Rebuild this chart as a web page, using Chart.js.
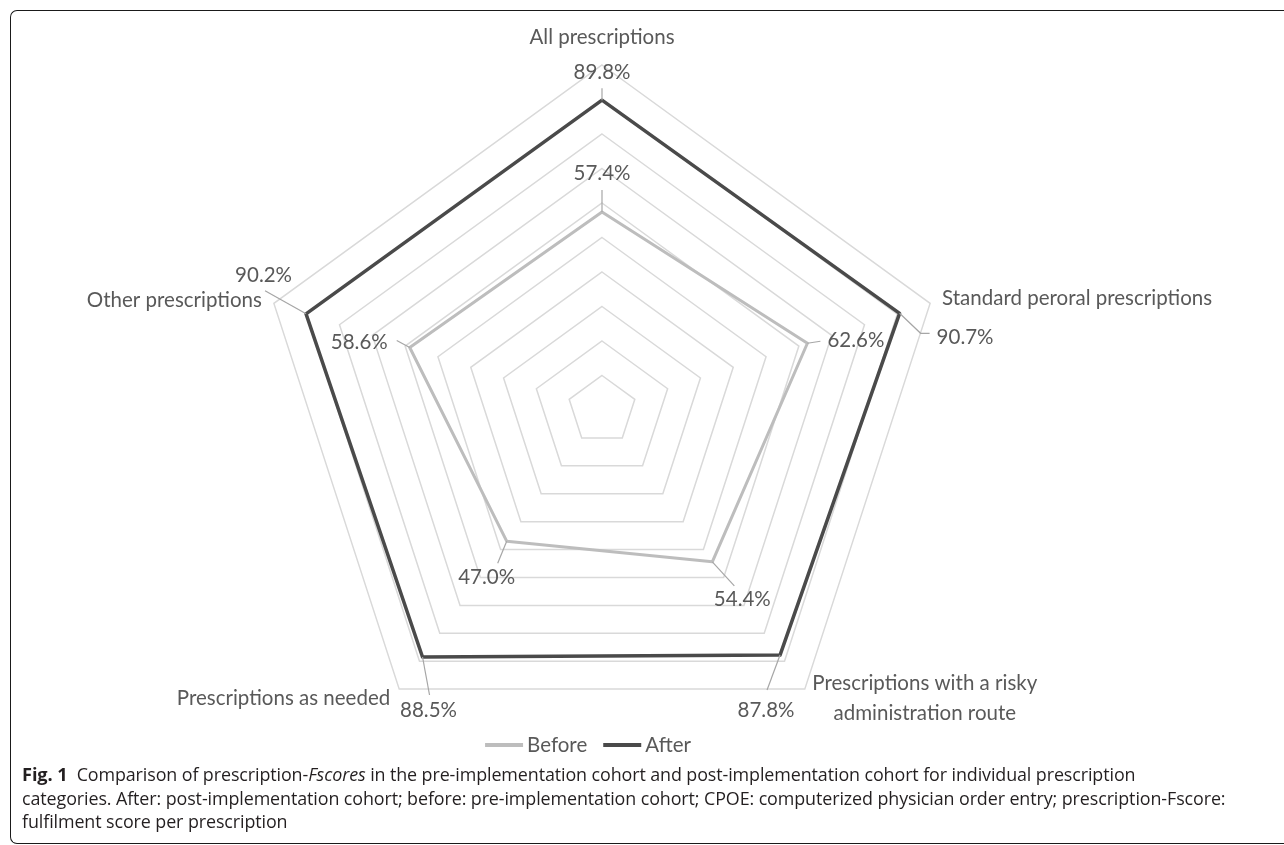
<!DOCTYPE html>
<html>
<head>
<meta charset="utf-8">
<script src="https://cdn.jsdelivr.net/npm/chart.js@4/dist/chart.umd.min.js"></script>
<style>
  html, body { margin: 0; padding: 0; background: #fff; width: 1284px; height: 845px; overflow: hidden; }
  #frame { position: absolute; left: 10px; top: 10px; width: 1300px; height: 834px; box-sizing: border-box;
           border: 1.5px solid #1a1a1a; border-right: none; border-radius: 7px 0 0 7px; }
  #chart { position: absolute; left: 0; top: 0; }
  #caption { position: absolute; left: 22px; top: 763px; font-family: "Open Sans", sans-serif; font-size: 17.9px;
             line-height: 23.5px; color: #231f20; white-space: nowrap; letter-spacing: -0.1px; }
  #caption b { font-weight: 700; font-size: 18.2px; }
</style>
</head>
<body>
<div id="frame"></div>
<canvas id="chart" width="1284" height="845"></canvas>
<div id="caption">
  <div><b>Fig. 1</b>&nbsp; Comparison of prescription-<i>Fscores</i> in the pre-implementation cohort and post-implementation cohort for individual prescription</div>
  <div>categories. After: post-implementation cohort; before: pre-implementation cohort; CPOE: computerized physician order entry; prescription-Fscore:</div>
  <div>fulfilment score per prescription</div>
</div>
<script>
// Categories around the radar, clockwise from the top
const categories = [
  ["All prescriptions"],
  ["Standard peroral prescriptions"],
  ["Prescriptions with a risky", "administration route"],
  ["Prescriptions as needed"],
  ["Other prescriptions"]
];
const seriesNames = ["Before", "After"];
// Prescription-Fscore (%) per category
const beforeValues = [57.4, 62.6, 54.4, 47.0, 58.6];
const afterValues  = [89.8, 90.7, 87.8, 88.5, 90.2];
// Radial axis range and ring spacing
const axisMin = 0;
const axisMax = 100;
const axisStep = 10;

const FONT = '"Lato", "Noto Sans", sans-serif';
const TEXT_COLOR = '#595959';
const BEFORE_COLOR = '#bdbdbd';
const AFTER_COLOR = '#4a4a4a';
const LEADER_COLOR = '#a6a6a6';

// Category label placement relative to the outer ring vertex
const categoryPlacement = [
  { dx: 0,   dy: -28, align: 'center' },
  { dx: 12,  dy: -5,  align: 'left' },
  { dx: 120, dy: -6,  align: 'center' },
  { dx: -9,  dy: 9,   align: 'right' },
  { dx: -12, dy: -3,  align: 'right' }
];
// Value label placement relative to each data point, with leader line bends
const valuePlacement = [
  [ // Before
    { dx: 0,   dy: -39, align: 'center', leader: [[0, -22]] },
    { dx: 20,  dy: -3,  align: 'left',   leader: [[13, -2]] },
    { dx: 30,  dy: 38,  align: 'center', leader: [[22, 24]] },
    { dx: -20, dy: 36,  align: 'center', leader: [[-9, 22]] },
    { dx: -22, dy: -5,  align: 'right',  leader: [[-13, -7]] }
  ],
  [ // After
    { dx: 0,   dy: -28, align: 'center', leader: [[0, -12]] },
    { dx: 37,  dy: 24,  align: 'left',   leader: [[21, 20], [30, 20]] },
    { dx: -14, dy: 55,  align: 'center', leader: [[-13, 35]] },
    { dx: 6,   dy: 53,  align: 'center', leader: [[7, 38]] },
    { dx: -14, dy: -38, align: 'right',  leader: [[-41, -23]] }
  ]
];

const radarLabels = {
  id: 'radarLabels',
  afterDatasetsDraw(chart) {
    const ctx = chart.ctx;
    const scale = chart.scales.r;
    ctx.save();
    ctx.font = '20.5px ' + FONT;
    ctx.fillStyle = TEXT_COLOR;
    ctx.textBaseline = 'middle';

    // category names
    categories.forEach((lines, i) => {
      const p = scale.getPointPosition(i, scale.drawingArea);
      const pl = categoryPlacement[i];
      ctx.textAlign = pl.align;
      lines.forEach((line, k) => {
        ctx.fillText(line, p.x + pl.dx, p.y + pl.dy + k * 30);
      });
    });

    // value labels with leader lines
    chart.data.datasets.forEach((ds, d) => {
      const meta = chart.getDatasetMeta(d);
      meta.data.forEach((pt, i) => {
        const pl = valuePlacement[d][i];
        ctx.strokeStyle = LEADER_COLOR;
        ctx.lineWidth = 1.2;
        ctx.beginPath();
        ctx.moveTo(pt.x, pt.y);
        pl.leader.forEach(([lx, ly]) => ctx.lineTo(pt.x + lx, pt.y + ly));
        ctx.stroke();
        ctx.textAlign = pl.align;
        ctx.fillStyle = TEXT_COLOR;
        ctx.fillText(ds.data[i].toFixed(1) + '%', pt.x + pl.dx, pt.y + pl.dy);
      });
    });

    // legend
    const swatch = 38, gapText = 4, gapItem = 16;
    const items = chart.data.datasets.map(ds => ({ text: ds.label, color: ds.borderColor, w: ctx.measureText(ds.label).width }));
    const total = items.reduce((s, it) => s + swatch + gapText + it.w, 0) + gapItem * (items.length - 1);
    let x = scale.xCenter - 14 - total / 2;
    const y = 745;
    items.forEach(it => {
      ctx.strokeStyle = it.color;
      ctx.lineWidth = 4;
      ctx.beginPath();
      ctx.moveTo(x, y);
      ctx.lineTo(x + swatch, y);
      ctx.stroke();
      ctx.textAlign = 'left';
      ctx.fillStyle = TEXT_COLOR;
      ctx.fillText(it.text, x + swatch + gapText, y);
      x += swatch + gapText + it.w + gapItem;
    });
    ctx.restore();
  }
};

new Chart(document.getElementById('chart'), {
  type: 'radar',
  data: {
    labels: categories,
    datasets: [
      { label: seriesNames[0], data: beforeValues, borderColor: BEFORE_COLOR, borderWidth: 3, fill: false },
      { label: seriesNames[1], data: afterValues, borderColor: AFTER_COLOR, borderWidth: 3.5, fill: false }
    ]
  },
  options: {
    responsive: false,
    animation: false,
    devicePixelRatio: 1,
    layout: { padding: { left: 257, right: 337, top: 65, bottom: 90 } },
    elements: {
      line: { tension: 0, borderJoinStyle: 'round' },
      point: { radius: 0, hoverRadius: 0 }
    },
    plugins: { legend: { display: false }, tooltip: { enabled: false } },
    scales: {
      r: {
        min: axisMin,
        max: axisMax,
        ticks: { display: false, stepSize: axisStep },
        grid: { color: '#d9d9d9', lineWidth: 1.5 },
        angleLines: { display: false },
        pointLabels: { display: false }
      }
    }
  },
  plugins: [radarLabels]
});
</script>
</body>
</html>
